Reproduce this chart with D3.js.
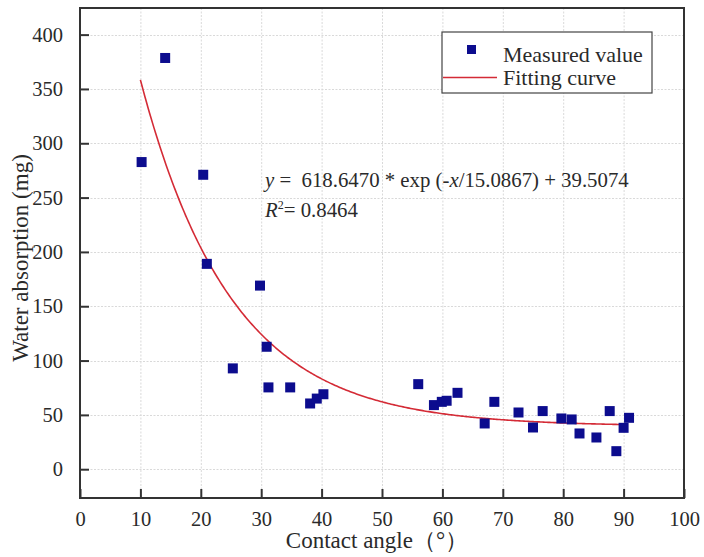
<!DOCTYPE html>
<html>
<head>
<meta charset="utf-8">
<script src="https://cdn.jsdelivr.net/npm/d3@7/dist/d3.min.js"></script>
<style>
  html, body { margin: 0; padding: 0; background: #fff; }
  svg { display: block; }
</style>
</head>
<body>
<script>
// Contact angle (°) of each sample
const contactAngle = [10.2, 14.1, 20.4, 21.0, 25.3, 29.8, 30.9, 31.2, 34.8, 38.1,
                      39.2, 40.3, 56.0, 58.6, 59.9, 60.7, 62.5, 67.0, 68.6, 72.6,
                      75.0, 76.6, 79.7, 81.4, 82.7, 85.5, 87.7, 88.8, 90.0, 90.9];
// Measured water absorption (mg)
const waterAbsorption = [282.7, 378.5, 271.0, 189.0, 92.8, 169.0, 112.7, 75.3, 75.3, 60.5,
                         65.0, 69.0, 78.3, 59.0, 62.0, 63.0, 70.3, 42.1, 62.0, 52.2,
                         38.4, 53.5, 46.7, 45.8, 32.9, 29.2, 53.5, 16.6, 38.1, 47.3];
// Exponential fit y = A * exp(-x / t) + y0
const fitA = 618.6470, fitT = 15.0867, fitY0 = 39.5074, fitR2 = 0.8464;
const fitRange = [10, 90];
const xTicks = [0, 10, 20, 30, 40, 50, 60, 70, 80, 90, 100];
const yTicks = [0, 50, 100, 150, 200, 250, 300, 350, 400];

const W = 704, H = 557;
const plotL = 80, plotR = 684, plotT = 8, plotB = 498;
const FONT = "'Liberation Serif', 'Times New Roman', serif";
const TEXT_COLOR = "#2a2a2a";

const svg = d3.select("body").append("svg").attr("width", W).attr("height", H);

const x = d3.scaleLinear().domain([0, 100]).range([plotL, plotR]);
const y = d3.scaleLinear().domain([-26.5, 424.5]).range([plotB, plotT]);

// grid
const grid = svg.append("g").attr("stroke", "#d9d9d9").attr("stroke-width", 1).attr("stroke-dasharray", "2,1.5");
grid.selectAll("line.v").data(xTicks.filter(d => d > 0 && d < 100)).join("line")
  .attr("x1", d => x(d) + 0.5).attr("x2", d => x(d) + 0.5).attr("y1", plotT).attr("y2", plotB);
grid.selectAll("line.h").data(yTicks).join("line")
  .attr("y1", d => Math.round(y(d)) + 0.5).attr("y2", d => Math.round(y(d)) + 0.5).attr("x1", plotL).attr("x2", plotR);

// axes with inward ticks
const xAxis = d3.axisBottom(x).tickValues(xTicks).tickSizeInner(-9).tickSizeOuter(0).tickPadding(20);
const yAxis = d3.axisLeft(y).tickValues(yTicks).tickSizeInner(-9).tickSizeOuter(0).tickPadding(17);

const gx = svg.append("g").attr("transform", `translate(0,${plotB})`).call(xAxis);
const gy = svg.append("g").attr("transform", `translate(${plotL},0)`).call(yAxis);
[gx, gy].forEach(g => {
  g.attr("font-family", FONT).attr("font-size", 20.5);
  g.select(".domain").remove();
  g.selectAll(".tick line").attr("stroke", "#333").attr("stroke-width", 2);
  g.selectAll(".tick text").attr("fill", TEXT_COLOR).style("font-family", FONT);
});
gx.selectAll(".tick text").attr("dy", "0.71em").attr("y", 13);

// frame
svg.append("rect").attr("x", plotL).attr("y", plotT).attr("width", plotR - plotL).attr("height", plotB - plotT)
  .attr("fill", "none").attr("stroke", "#333").attr("stroke-width", 2);

// fitted curve
const fitX = d3.range(fitRange[0], fitRange[1] + 0.001, 0.25);
const line = d3.line().x(d => x(d)).y(d => y(fitA * Math.exp(-d / fitT) + fitY0));
svg.append("path").datum(fitX).attr("d", line)
  .attr("fill", "none").attr("stroke", "#d42b36").attr("stroke-width", 1.6);

// measured points
const ms = 10;
svg.append("g").selectAll("rect").data(contactAngle).join("rect")
  .attr("x", (d) => x(d) - ms / 2)
  .attr("y", (d, i) => y(waterAbsorption[i]) - ms / 2)
  .attr("width", ms).attr("height", ms)
  .attr("fill", "#0c0c8e");

function label(sel, size) {
  return sel.attr("font-size", size).attr("fill", TEXT_COLOR)
    .style("font-family", FONT).style("white-space", "pre");
}

// axis titles
label(svg.append("text"), 23).attr("x", 377).attr("y", 548).attr("text-anchor", "middle")
  .text("Contact angle（°）");
label(svg.append("text"), 23).attr("transform", "translate(28,258) rotate(-90)").attr("text-anchor", "middle")
  .text("Water absorption (mg)");

// legend
const lg = svg.append("g");
lg.append("rect").attr("x", 442).attr("y", 32).attr("width", 210).attr("height", 61)
  .attr("fill", "#fff").attr("stroke", "#444").attr("stroke-width", 1.2);
lg.append("rect").attr("x", 467).attr("y", 45).attr("width", 9).attr("height", 9).attr("fill", "#0c0c8e");
lg.append("line").attr("x1", 443).attr("x2", 497).attr("y1", 77.5).attr("y2", 77.5)
  .attr("stroke", "#d42b36").attr("stroke-width", 1.6);
label(lg.append("text"), 22).attr("x", 503).attr("y", 62).text("Measured value");
label(lg.append("text"), 22).attr("x", 503).attr("y", 85).text("Fitting curve");

// fit equation
const eq = label(svg.append("text"), 20.8).attr("x", 265).attr("y", 187);
eq.append("tspan").attr("font-style", "italic").text("y");
eq.append("tspan").text(` =  ${fitA.toFixed(4)} * exp (-`);
eq.append("tspan").attr("font-style", "italic").text("x");
eq.append("tspan").text(`/${fitT.toFixed(4)}) + ${fitY0.toFixed(4)}`);

const r2 = label(svg.append("text"), 20.8).attr("x", 265).attr("y", 217);
r2.append("tspan").attr("font-style", "italic").text("R");
r2.append("tspan").attr("font-size", 12).attr("dy", -8).text("2");
r2.append("tspan").attr("dy", 8).text(`= ${fitR2.toFixed(4)}`);
</script>
</body>
</html>
